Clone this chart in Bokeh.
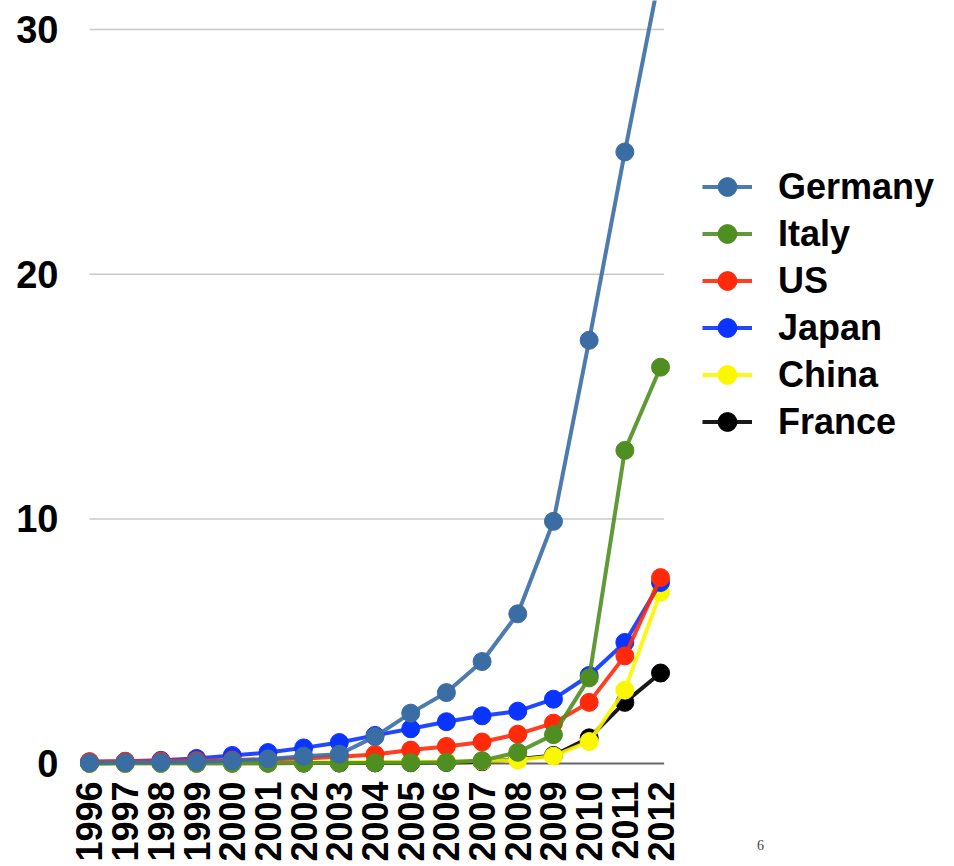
import math
from bokeh.plotting import figure
from bokeh.models import Legend, LegendItem, FixedTicker, Range1d, Label
from bokeh.embed import file_html
from bokeh.resources import INLINE

years = list(range(1996, 2013))

germany = [0.03, 0.04, 0.05, 0.07, 0.11, 0.19, 0.30, 0.38, 1.10, 2.06, 2.90, 4.17, 6.12, 9.90, 17.30, 25.00, 32.40]
italy = [0.016, 0.017, 0.018, 0.018, 0.019, 0.020, 0.022, 0.026, 0.031, 0.037, 0.050, 0.12, 0.46, 1.18, 3.50, 12.80, 16.20]
us = [0.08, 0.09, 0.10, 0.12, 0.14, 0.17, 0.21, 0.28, 0.37, 0.55, 0.70, 0.88, 1.20, 1.65, 2.50, 4.40, 7.60]
japan = [0.06, 0.09, 0.13, 0.21, 0.33, 0.45, 0.64, 0.86, 1.15, 1.42, 1.71, 1.95, 2.14, 2.63, 3.60, 4.95, 7.40]
china = [0.011, 0.013, 0.015, 0.017, 0.019, 0.024, 0.042, 0.052, 0.062, 0.068, 0.080, 0.10, 0.14, 0.30, 0.90, 3.00, 7.00]
france = [0.006, 0.007, 0.008, 0.009, 0.011, 0.013, 0.017, 0.021, 0.026, 0.033, 0.044, 0.075, 0.18, 0.33, 1.05, 2.50, 3.70]

series_names = ["Germany", "Italy", "US", "Japan", "China", "France"]
series_values = [germany, italy, us, japan, china, france]
series_colors = ["#3a6da4", "#4f8f22", "#ff2a0a", "#0a34ff", "#fbf700", "#000000"]

y_ticks = [0, 10, 20, 30]
grid_values = [10, 20, 30]
page_number = "6"

p = figure(width=950, height=864, output_backend="svg", toolbar_location=None,
           x_range=Range1d(1995.468, 2019.928), y_range=Range1d(-0.53, 31.19),
           min_border_left=70, min_border_right=0, min_border_top=0, min_border_bottom=80)
p.outline_line_color = None
p.background_fill_color = "white"
p.border_fill_color = "white"
p.xgrid.visible = False
p.ygrid.visible = False

# gridlines limited to the data span
p.segment(x0=[years[0]] * len(grid_values), x1=[years[-1] + 0.1] * len(grid_values),
          y0=grid_values, y1=grid_values, line_color="#c9c9c9", line_width=1.5, level="underlay")
p.segment(x0=[years[0]], x1=[years[-1] + 0.1], y0=[0], y1=[0],
          line_color="#666666", line_width=2, level="underlay")

renderers = {}
for name, vals, col in reversed(list(zip(series_names, series_values, series_colors))):
    lr = p.line(years, vals, line_color=col, line_width=4, line_alpha=0.9)
    sr = p.scatter(years, vals, size=18, fill_color=col, line_color=col, line_width=1)
    renderers[name] = [lr, sr]

# axes
p.yaxis.ticker = FixedTicker(ticks=y_ticks)
p.yaxis.axis_line_color = None
p.yaxis.major_tick_line_color = None
p.yaxis.minor_tick_line_color = None
p.yaxis.major_tick_out = 0
p.yaxis.major_label_standoff = 12
p.yaxis.major_label_text_font = "Liberation Sans"
p.yaxis.major_label_text_font_style = "bold"
p.yaxis.major_label_text_font_size = "38px"
p.yaxis.major_label_text_color = "#000000"

p.xaxis.ticker = FixedTicker(ticks=years)
p.xaxis.axis_line_color = None
p.xaxis.major_tick_line_color = None
p.xaxis.minor_tick_line_color = None
p.xaxis.major_tick_out = 0
p.xaxis.major_label_standoff = 5
p.xaxis.major_label_orientation = math.pi / 2
p.xaxis.major_label_text_font = "Liberation Sans"
p.xaxis.major_label_text_font_style = "bold"
p.xaxis.major_label_text_font_size = "36px"
p.xaxis.major_label_text_color = "#000000"

items = [LegendItem(label=n, renderers=renderers[n]) for n in series_names]
legend = Legend(items=items, location=(632, 331), orientation="vertical",
                glyph_width=50, glyph_height=47, spacing=0, padding=0, margin=0,
                label_standoff=26, label_height=47, label_text_font="Liberation Sans",
                label_text_font_style="bold", label_text_font_size="36px",
                label_text_color="#000000", border_line_color=None,
                background_fill_alpha=0)
p.add_layout(legend)

# small slide page number below the plot, right of the axis labels
p.add_layout(Label(x=-183, y=-68, x_units="screen", y_units="screen", text=page_number,
                   text_font="Liberation Serif", text_font_size="14px", text_color="#444444",
                   text_align="center", text_baseline="middle"), "right")

open("out.html", "w").write(file_html(p, INLINE))
